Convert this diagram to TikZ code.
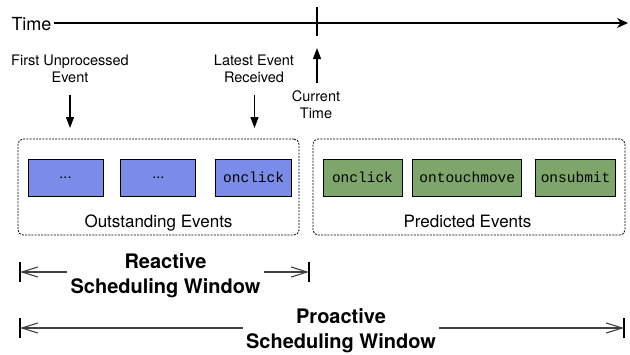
\documentclass[tikz,border=0pt]{standalone}
\usepackage{fontspec}
\setmainfont{TeX Gyre Heros}
\setmonofont{Liberation Mono}
\usetikzlibrary{positioning,arrows.meta}
\definecolor{outblue}{RGB}{122,139,232}
\definecolor{predgreen}{RGB}{127,166,106}
\tikzset{
  % Specifications for style of nodes:
  base/.style = {
    rectangle,
    draw=black,
    line width=0.8pt,
    text centered
  },
  group/.style = {
    base,
    rounded corners=5pt,
    dash pattern=on 2pt off 1.2pt,
    minimum height=96pt
  },
  event/.style = {
    base,
    minimum height=37pt,
    inner sep=0pt,
    font=\fontsize{14.5}{16}\ttfamily
  },
  outstanding/.style = {
    event,
    fill=outblue
  },
  predicted/.style = {
    event,
    fill=predgreen
  },
  caption/.style = {
    align=center,
    font=\fontsize{14.5}{17}\selectfont
  },
  window/.style = {
    align=center,
    inner sep=3pt,
    font=\fontsize{20}{25}\selectfont\bfseries
  },
  pointer/.style = {
    -{Triangle[length=11pt,width=8pt]},
    line width=1.2pt
  },
  span/.style = {
    -{Straight Barb[length=16pt,width=10pt]},
    draw=black!75,
    line width=1.1pt
  },
}
\def\windowbar#1{
  \draw[line width=1.1pt] ([yshift=10pt]#1) -- ([yshift=-10pt]#1);
}

\begin{document}
\begin{tikzpicture}[x=1pt, y=-1pt]
    \useasboundingbox (0,0) rectangle (630,354);
    % Time axis
    \node[font=\fontsize{18}{20}\selectfont, inner sep=2pt] (time) at (31.5,24.5) {Time};
    \coordinate (timeend) at (628,23);
    \coordinate (nowtop)  at (317,7);
    \coordinate (nowbot)  at (317,36);
    \draw[-{Stealth[length=11pt,width=10pt]}, line width=1.3pt] (time.east |- timeend) -- (timeend);
    \draw[line width=1.1pt] (nowtop) -- (nowbot);
    % Specification of labels and pointers
    \node[caption] (first)  at (70,69)  {First Unprocessed\\Event};
    \node[caption] (latest) at (254,69) {Latest Event\\Received};
    \node[caption] (now)    at (316,105) {Current\\Time};
    \coordinate (firsttip)  at (70,128);
    \coordinate (latesttip) at (254.5,128);
    \coordinate (nowtip)    at (317,48);
    \draw[pointer, shorten <=9pt] (first.south -| firsttip) -- (firsttip);
    \draw[pointer, shorten <=9pt] (latest.south -| latesttip) -- (latesttip);
    \draw[pointer, shorten <=4pt] (now.north -| nowtip) -- (nowtip);
    % Specification of event groups
    \node[group, minimum width=281pt] (outgroup)  at (158.5,187) {};
    \node[group, minimum width=312pt] (predgroup) at (469,187)   {};
    \node[outstanding, minimum width=75pt] (out0) at (65.5,177.5)       {\normalfont...};
    \node[outstanding, minimum width=75pt, right=17pt of out0] (out1)   {\normalfont...};
    \node[outstanding, minimum width=76pt, right=19pt of out1] (out2)   {onclick};
    \node[predicted, minimum width=79pt] (pred0) at (362.5,177.5)       {onclick};
    \node[predicted, minimum width=109pt, right=10pt of pred0] (pred1) {ontouchmove};
    \node[predicted, minimum width=80pt, right=13pt of pred1] (pred2)  {onsubmit};
    \node[anchor=base, font=\fontsize{17}{20}\selectfont] (outlabel)  at (158.5,227) {Outstanding Events};
    \node[anchor=base, font=\fontsize{17}{20}\selectfont] (predlabel) at (467.5,227) {Predicted Events};
    % Scheduling windows
    \node[window] (reactive)  at (165.5,275.5) {Reactive\\Scheduling Window};
    \node[window] (proactive) at (341,331)     {Proactive\\Scheduling Window};
    \coordinate (reactL) at (20,272);
    \coordinate (reactR) at (309,272);
    \coordinate (proL)   at (20,328);
    \coordinate (proR)   at (624,328);
    \windowbar{reactL}
    \windowbar{reactR}
    \windowbar{proL}
    \windowbar{proR}
    \draw[span] (reactive.west |- reactL) -- (reactL);
    \draw[span] (reactive.east |- reactR) -- (reactR);
    \draw[span] (proactive.west |- proL) -- (proL);
    \draw[span] (proactive.east |- proR) -- (proR);
\end{tikzpicture}
\end{document}
